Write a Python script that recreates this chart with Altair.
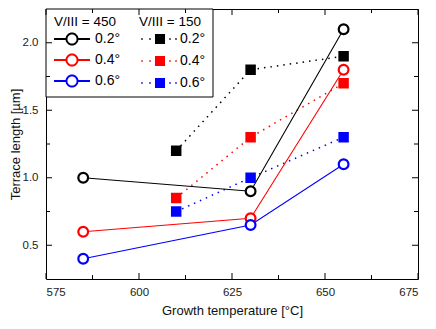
import math
import altair as alt
import pandas as pd

# ---- data ----
angles = ["0.2°", "0.4°", "0.6°"]
colors = ["#000000", "#ff0000", "#0000ff"]
group_titles = ["V/III = 450", "V/III = 150"]

temps_450 = [585, 630, 655]
len_450_02 = [1.0, 0.9, 2.1]
len_450_04 = [0.6, 0.7, 1.8]
len_450_06 = [0.4, 0.65, 1.1]

temps_150 = [610, 630, 655]
len_150_02 = [1.2, 1.8, 1.9]
len_150_04 = [0.85, 1.3, 1.7]
len_150_06 = [0.75, 1.0, 1.3]

x_ticks = [575, 600, 625, 650, 675]
x_minor = [587.5, 612.5, 637.5, 662.5]
y_ticks = [0.5, 1.0, 1.5, 2.0]
y_minor = [0.75, 1.25, 1.75]

W, H = 372, 270
FONT = "Liberation Sans"


def make_df(temps, series):
    rows = []
    for a, vals in zip(angles, series):
        for t, v in zip(temps, vals):
            rows.append({"T": t, "L": v, "angle": a})
    return pd.DataFrame(rows)


df450 = make_df(temps_450, [len_450_02, len_450_04, len_450_06])
df150 = make_df(temps_150, [len_150_02, len_150_04, len_150_06])

xscale = alt.Scale(domain=[575, 675], nice=False, zero=False)
yscale = alt.Scale(domain=[0.25, 2.25], nice=False, zero=False)

x_axis = alt.Axis(values=x_ticks, format="d", ticks=False, tickSize=0, domain=False,
                  grid=False, labelFontSize=11.5, labelPadding=7, labelColor="#222",
                  labelFont=FONT, title="Growth temperature [°C]", titleFont=FONT,
                  titleFontSize=13, titleFontWeight="normal", titleColor="#111",
                  titleX=W / 2, titleY=31, titleBaseline="middle")
y_axis = alt.Axis(values=y_ticks, format=".1f", ticks=False, tickSize=0, domain=False,
                  grid=False, labelFontSize=11.5, labelPadding=8, labelColor="#222",
                  labelFont=FONT, title="Terrace length [µm]", titleFont=FONT,
                  titleFontSize=13, titleFontWeight="normal", titleColor="#111",
                  titleX=-31, titleY=H / 2, titleBaseline="middle", titleAngle=270)


def X(field):
    return alt.X(field, type="quantitative", scale=xscale, axis=x_axis)


def Y(field):
    return alt.Y(field, type="quantitative", scale=yscale, axis=y_axis)


# legend symbols: unit = 6 px (symbolSize 144), drawn from x=-1 to the right
ring = []
for k in range(32):
    a = 2 * math.pi * k / 32
    ring.append(f"{2 + 0.92 * math.cos(a):.3f},{0.92 * math.sin(a):.3f}")
path450 = "M-1,0H1.08M2.92,0H5M" + "L".join(ring) + "Z"
path150 = "M1.5,-0.83H3.17V0.83H1.5Z"
for cx in [-0.667, 0.667, 4.0, 5.0]:
    path150 += f"M{cx - 0.13:.3f},-0.13h0.26v0.26h-0.26Z"

common = dict(orient="none", title=None, symbolSize=144, labelFontSize=14,
              labelFont=FONT, labelColor="#000", padding=0, legendY=23)

leg450 = alt.Legend(legendX=7, symbolType=path450, symbolStrokeWidth=2,
                    symbolFillColor="white", labelOffset=28, rowPadding=1, **common)
leg150 = alt.Legend(legendX=93, symbolType=path150, symbolStrokeWidth=0,
                    labelOffset=27, rowPadding=8, **common)

box = alt.Chart(alt.Data(values=[{}])).mark_rect(
    fill="white", stroke="black", strokeWidth=1
).encode(x=alt.value(0), x2=alt.value(167), y=alt.value(0), y2=alt.value(88))

title450 = alt.Chart(alt.Data(values=[{}])).mark_text(
    text=group_titles[0], align="left", baseline="middle", fontSize=13.5, font=FONT,
    color="#000").encode(x=alt.value(8), y=alt.value(13))
title150 = alt.Chart(alt.Data(values=[{}])).mark_text(
    text=group_titles[1], align="left", baseline="middle", fontSize=13.5, font=FONT,
    color="#000").encode(x=alt.value(93), y=alt.value(13))

g450 = alt.Chart(df450).mark_line(
    strokeWidth=1.1,
    point=alt.OverlayMarkDef(shape="circle", filled=False, fill="white", size=95,
                             strokeWidth=2.2, opacity=1),
).encode(
    x=X("T"), y=Y("L"),
    color=alt.Color("angle:N", scale=alt.Scale(domain=angles, range=colors), legend=leg450),
)

g150 = alt.Chart(df150).mark_line(
    strokeWidth=1.5, strokeDash=[1.5, 5],
    point=alt.OverlayMarkDef(shape="square", filled=True, size=110, opacity=1,
                             strokeDash=[1, 0]),
).encode(
    x=X("T"), y=Y("L"),
    color=alt.Color("angle:N", scale=alt.Scale(domain=angles, range=colors), legend=leg150),
)

xmaj = pd.DataFrame({"T": x_ticks})
xmin = pd.DataFrame({"T": x_minor})
ymaj = pd.DataFrame({"L": y_ticks})
ymin = pd.DataFrame({"L": y_minor})

def xt(df, y0, y1):
    return alt.Chart(df).mark_rule(color="black", strokeWidth=1).encode(
        x=X("T"), y=alt.value(y0), y2=alt.value(y1))

def yt(df, x0, x1):
    return alt.Chart(df).mark_rule(color="black", strokeWidth=1).encode(
        y=Y("L"), x=alt.value(x0), x2=alt.value(x1))

ticks = [
    xt(xmaj, H, H - 6), xt(xmin, H, H - 4), xt(xmaj, 0, 6), xt(xmin, 0, 4),
    yt(ymaj, 0, 6), yt(ymin, 0, 4), yt(ymaj, W, W - 6), yt(ymin, W, W - 4),
]

chart = alt.layer(box, title450, title150, *ticks, g150, g450).resolve_scale(
    color="independent"
).properties(
    width=W, height=H,
    autosize=alt.AutoSizeParams(type="none"),
    padding={"left": 38, "top": 1, "right": 10, "bottom": 39},
).configure_view(stroke="black", strokeWidth=1)

chart.save("out.html", embed_options={"renderer": "svg", "actions": False})
